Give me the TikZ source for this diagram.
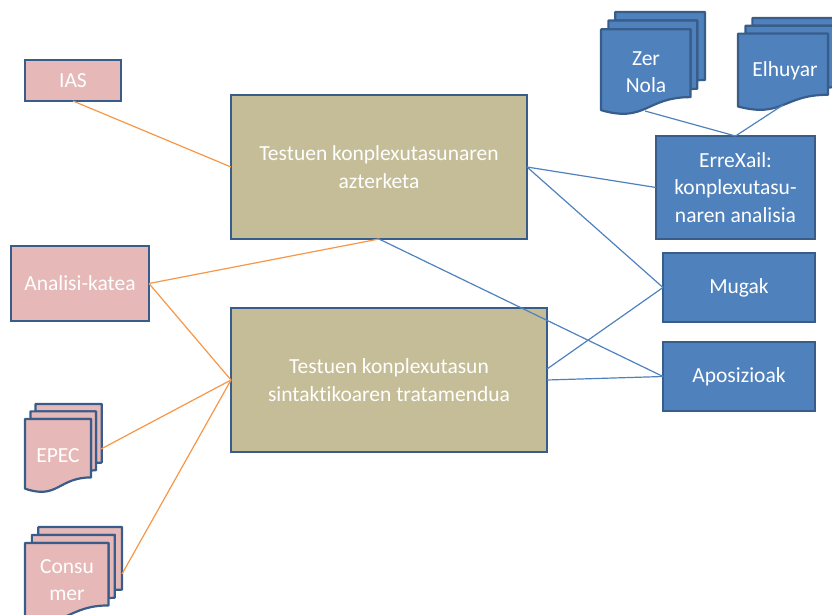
\documentclass[tikz,border=0pt]{standalone}
\usepackage{fontspec}
\setmainfont{Carlito}[Ligatures=NoCommon]
\definecolor{pinkfill}{HTML}{E6B9B8}
\definecolor{olivefill}{HTML}{C4BD97}
\definecolor{bluefill}{HTML}{4F81BD}
\definecolor{bordercol}{HTML}{385D8A}
\definecolor{orangeline}{HTML}{F79646}
\definecolor{blueline}{HTML}{4F81BD}
\tikzset{
  basebox/.style={draw=bordercol, line width=2.2pt, inner sep=0pt, outer sep=0pt,
    text=white, align=center, font=\fontsize{21.5}{27.5}\selectfont},
  pinkbox/.style={basebox, fill=pinkfill},
  olivebox/.style={basebox, fill=olivefill},
  bluebox/.style={basebox, fill=bluefill},
  doctext/.style={text=white, align=center, inner sep=0pt, font=\fontsize{21.5}{27.5}\selectfont},
  docshape/.style={draw=bordercol, line width=2.2pt, line join=round},
  oline/.style={draw=orangeline, line width=1.2pt},
  bline/.style={draw=blueline, line width=1.2pt}
}
% multidocument: x y (top-left), w/100 h/100, fill
\newcommand{\mdoc}[5]{%
  \begin{scope}[shift={(#1,#2)}, x=#3pt, y=-#4pt]
    \path[docshape, fill=#5] (13.76,8.40) -- (13.76,0) -- (100,0) -- (100,66.63)
      .. controls (96.30,66.63) and (92.59,66.98) .. (92.59,66.98) -- (92.59,8.40) -- cycle;
    \path[docshape, fill=#5] (7.09,17.01) -- (7.09,8.40) -- (92.59,8.40) -- (92.59,75.24)
      .. controls (89.34,75.24) and (86.09,75.70) .. (86.09,75.70) -- (86.09,17.01) -- cycle;
    \path[docshape, fill=#5] (0,96.21) .. controls (43.05,108.99) and (43.05,83.44) .. (86.09,83.44)
      -- (86.09,17.01) -- (0,17.01) -- cycle;
  \end{scope}}
\begin{document}
\begin{tikzpicture}[x=1pt, y=-1pt]
\useasboundingbox (0,0) rectangle (832,615);

% multidocuments
\mdoc{601}{12}{1.04}{1.02}{bluefill}
\mdoc{738}{18}{1.045}{0.92}{bluefill}
\mdoc{25}{404}{0.767}{0.88}{pinkfill}
\mdoc{25}{527}{0.97}{0.94}{pinkfill}

\node[doctext] (zernola) at (646,72) {Zer\\Nola};
\node[doctext] (elhuyar) at (785,71) {Elhuyar};
\node[doctext] (epec) at (58,456) {EPEC};
\node[doctext] (consumer) at (67,580) {Consu\\mer};

\coordinate (zernolaB) at (645,111);
\coordinate (elhuyarB) at (783,105);
\coordinate (epecR) at (101,449);
\coordinate (consumerR) at (122,574);

% boxes
\node[pinkbox, minimum width=96pt, minimum height=41pt] (ias) at (73,80.5) {IAS};
\node[pinkbox, minimum width=138pt, minimum height=75pt] (ana) at (80,283.5) {Analisi-katea};
\node[olivebox, minimum width=296pt, minimum height=144pt] (azt) at (379,167) {Testuen konplexutasunaren\\azterketa};
\node[olivebox, minimum width=316pt, minimum height=144pt] (trat) at (389,380) {Testuen konplexutasun\\sintaktikoaren tratamendua};
\node[bluebox, minimum width=159pt, minimum height=103pt] (errex) at (735.5,187.5) {ErreXail:\\konplexutasu-\\naren analisia};
\node[bluebox, minimum width=152pt, minimum height=69pt] (mugak) at (739,287.5) {Mugak};
\node[bluebox, minimum width=152pt, minimum height=69pt] (apos) at (739,376.5) {Aposizioak};

% orange connectors
\draw[oline] (ias.south) -- (azt.west);
\draw[oline] (ana.east) -- (azt.south);
\draw[oline] (ana.east) -- (trat.west);
\draw[oline] (epecR) -- (trat.west);
\draw[oline] (consumerR) -- (trat.west);

% blue connectors
\draw[bline] (zernolaB) -- (errex.north);
\draw[bline] (elhuyarB) -- (errex.north);
\draw[bline] (azt.east) -- (errex.west);
\draw[bline] (azt.east) -- (mugak.west);
\draw[bline] (azt.south) -- (apos.west);
\draw[bline] ([yshift=11pt]trat.east) -- (mugak.west);
\draw[bline] (trat.east) -- (apos.west);
\end{tikzpicture}
\end{document}
